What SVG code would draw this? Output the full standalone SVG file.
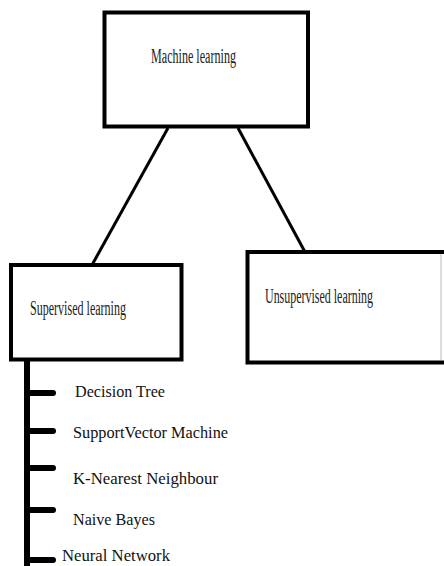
<svg xmlns="http://www.w3.org/2000/svg" width="444" height="566" viewBox="0 0 444 566">
<style>
.box{fill:#fff;stroke:#000;stroke-width:4}
.lbl{font-family:"Liberation Serif","Times New Roman",serif;font-size:20px;fill:#222}
.item{font-family:"Liberation Serif","Times New Roman",serif;font-size:17.5px;fill:#111}
.conn{stroke:#000;stroke-width:3;fill:none}
.tree{stroke:#000;stroke-width:6;fill:none}
.branch{stroke:#000;stroke-width:6;stroke-linecap:round;fill:none}
</style>
<rect width="444" height="566" fill="#fff"/>
<g id="connectors">
<line class="conn" x1="168" y1="128" x2="92" y2="265"/>
<line class="conn" x1="238" y1="128" x2="305" y2="252"/>
<line class="tree" x1="27" y1="360" x2="27" y2="566"/>
<line class="branch" x1="27" y1="393" x2="53" y2="393"/>
<line class="branch" x1="27" y1="431" x2="53" y2="431"/>
<line class="branch" x1="27" y1="468" x2="53" y2="468"/>
<line class="branch" x1="27" y1="510" x2="53" y2="510"/>
<line class="branch" x1="27" y1="560" x2="53" y2="560"/>
</g>
<g id="machine-learning">
<rect class="box" x="104.5" y="12.5" width="203.5" height="114"/>
<text class="lbl" x="151" y="63" textLength="85" lengthAdjust="spacingAndGlyphs">Machine learning</text>
</g>
<g id="supervised-learning">
<rect class="box" x="11" y="265" width="170.5" height="94.5"/>
<text class="lbl" x="30" y="315" textLength="96" lengthAdjust="spacingAndGlyphs">Supervised learning</text>
</g>
<g id="unsupervised-learning">
<rect x="247.5" y="252" width="193.5" height="110.5" fill="#fff"/>
<path d="M247.5 252 H444 M247.5 250 V364.5 M247.5 362.5 H444" stroke="#000" stroke-width="4" fill="none"/>
<line x1="441" y1="254" x2="441" y2="360" stroke="#bbb" stroke-width="1"/>
<text class="lbl" x="265" y="303" textLength="108" lengthAdjust="spacingAndGlyphs">Unsupervised learning</text>
</g>
<g id="decision-tree"><text class="item" x="75" y="397" textLength="90" lengthAdjust="spacingAndGlyphs">Decision Tree</text></g>
<g id="svm"><text class="item" x="73" y="438" textLength="155" lengthAdjust="spacingAndGlyphs">SupportVector Machine</text></g>
<g id="knn"><text class="item" x="73" y="484" textLength="145" lengthAdjust="spacingAndGlyphs">K-Nearest Neighbour</text></g>
<g id="naive-bayes"><text class="item" x="73" y="525" textLength="82" lengthAdjust="spacingAndGlyphs">Naive Bayes</text></g>
<g id="neural-network"><text class="item" x="62" y="561" textLength="108" lengthAdjust="spacingAndGlyphs">Neural Network</text></g>
</svg>
